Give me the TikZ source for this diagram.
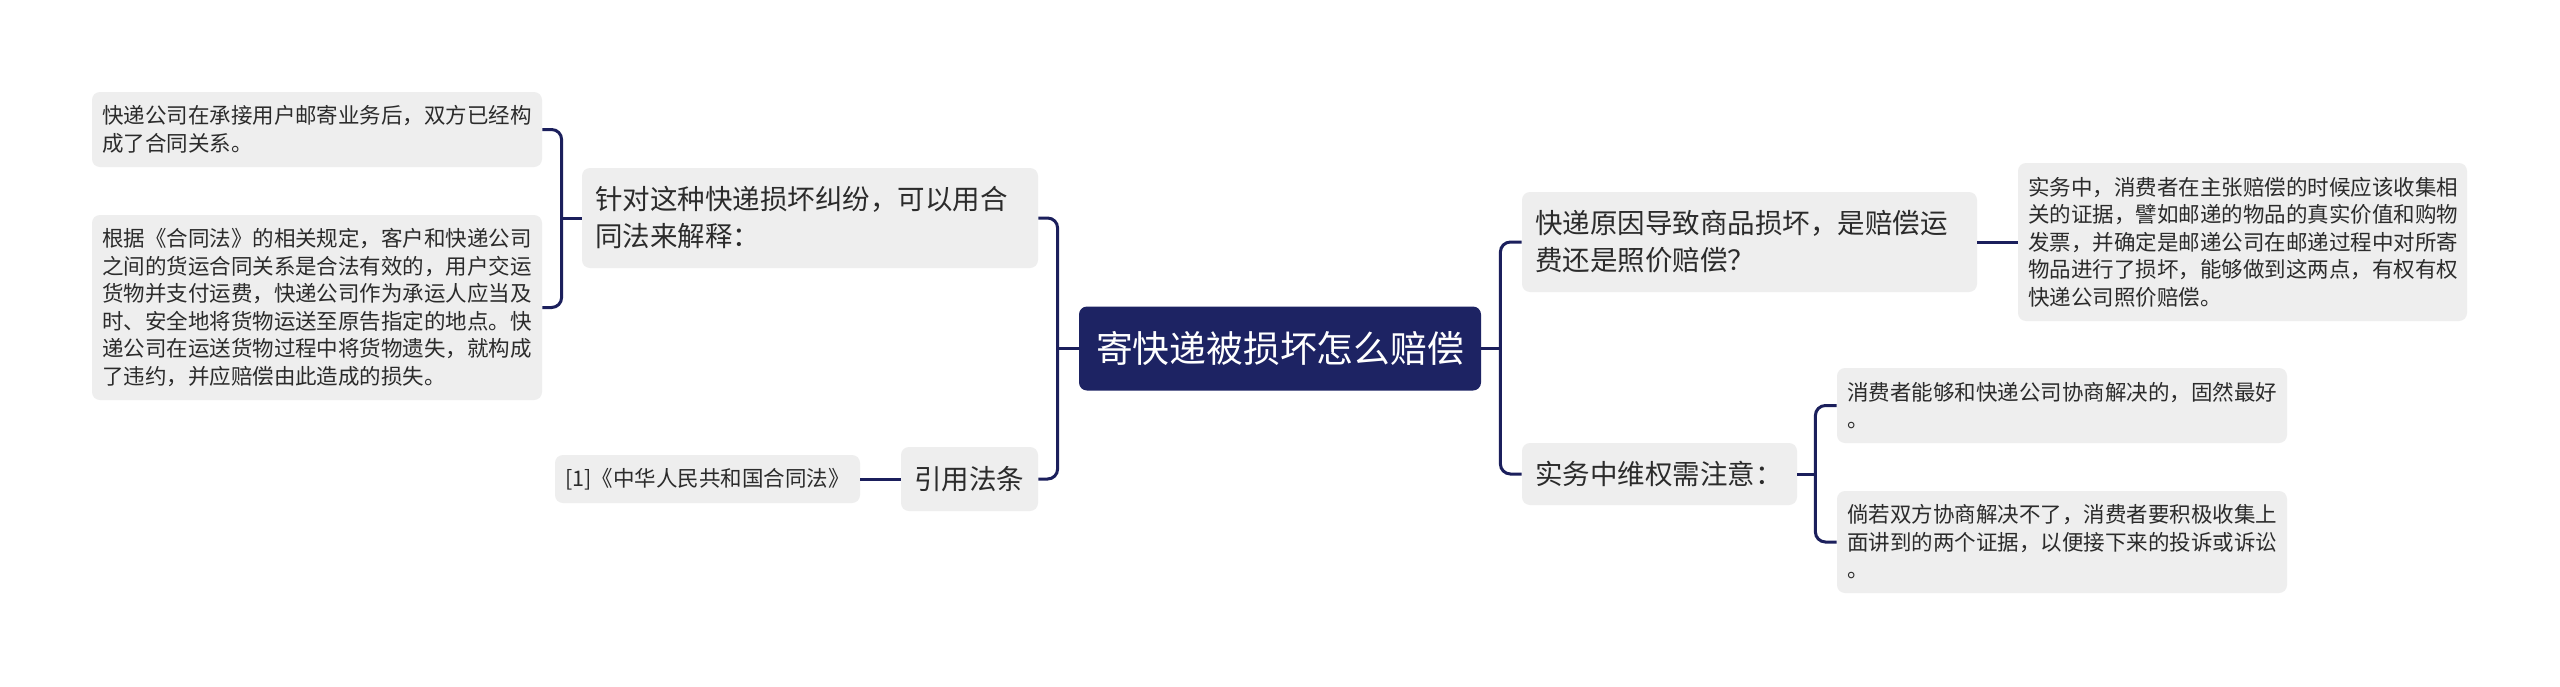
\documentclass[tikz,border=0pt]{standalone}
\usepackage{fontspec}
\setmainfont{Noto Sans CJK SC}
\newfontfamily\cjk{Noto Sans CJK SC}
\definecolor{boxgray}{HTML}{EEEEEE}
\definecolor{navy}{HTML}{1D2363}
\definecolor{linenavy}{HTML}{1B1F5C}
\definecolor{txt}{HTML}{2B2B2B}
\newcommand{\leaffont}{\cjk\fontsize{10.75pt}{13.75pt}\selectfont}
\newcommand{\midfont}{\cjk\fontsize{13.75pt}{18.5pt}\selectfont}
\newcommand{\rootfont}{\cjk\fontsize{18.4pt}{22pt}\selectfont}
\tikzset{
  leafbox/.style={rounded corners=4pt, fill=boxgray, text=txt, font=\leaffont,
    align=left, inner xsep=5pt, inner ysep=0pt, anchor=center},
  midbox/.style={rounded corners=4pt, fill=boxgray, text=txt, font=\midfont,
    align=left, inner xsep=6.5pt, inner ysep=0pt, anchor=center},
  rootbox/.style={rounded corners=4pt, fill=navy, text=white, font=\rootfont,
    align=center, inner xsep=0pt, inner ysep=0pt, anchor=center},
  conn/.style={draw=linenavy, line width=1.5pt, rounded corners=5pt}
}
\begin{document}
\begin{tikzpicture}[x=0.5pt,y=-0.5pt]
\fill[white] (0,0) rectangle (2560,686);
\useasboundingbox (0,0) rectangle (2560,686);

% root
\node[rootbox, minimum width=201pt, minimum height=42pt] (root) at (1280,348.5) {寄快递被损坏怎么赔偿};

% left side
\node[midbox, text width=215pt, minimum height=50pt] (L1) at (810,218)
  {针对这种快递损坏纠纷，可以用合\\同法来解释：};
\node[midbox, text width=55.5pt, minimum height=32pt] (quote) at (969.5,479) {引用法条};
\node[leafbox, text width=215pt, minimum height=37.5pt] (leafA) at (317,129.5)
  {快递公司在承接用户邮寄业务后，双方已经构\\成了合同关系。};
\node[leafbox, text width=215pt, minimum height=92.5pt] (leafB) at (317,307.5)
  {根据《合同法》的相关规定，客户和快递公司\\之间的货运合同关系是合法有效的，用户交运\\货物并支付运费，快递公司作为承运人应当及\\时、安全地将货物运送至原告指定的地点。快\\递公司在运送货物过程中将货物遗失，就构成\\了违约，并应赔偿由此造成的损失。};
\node[leafbox, align=center, minimum width=152.5pt, minimum height=24pt] (ref) at (707.5,479)
  {[1]《中华人民共和国合同法》};

% right side
\node[midbox, text width=214.5pt, minimum height=50pt] (R1) at (1749.5,242)
  {快递原因导致商品损坏，是赔偿运\\费还是照价赔偿？};
\node[midbox, text width=124.5pt, minimum height=31pt] (R2) at (1659.5,474) {实务中维权需注意：};
\node[leafbox, text width=214.5pt, minimum height=79pt] (R1leaf) at (2242.5,242)
  {实务中，消费者在主张赔偿的时候应该收集相\\关的证据，譬如邮递的物品的真实价值和购物\\发票，并确定是邮递公司在邮递过程中对所寄\\物品进行了损坏，能够做到这两点，有权有权\\快递公司照价赔偿。};
\node[leafbox, text width=215pt, minimum height=37.5pt] (R2a) at (2062,405.5)
  {消费者能够和快递公司协商解决的，固然最好\\。};
\node[leafbox, text width=215pt, minimum height=51pt] (R2b) at (2062,542)
  {倘若双方协商解决不了，消费者要积极收集上\\面讲到的两个证据，以便接下来的投诉或诉讼\\。};

% connectors left
\draw[conn] (L1.east) -| ([xshift=-10.5pt]root.west) |- (quote.east);
\draw[conn] (root.west) -- ([xshift=-10.5pt]root.west);
\draw[conn] (leafA.east) -| ([xshift=-10pt]L1.west) |- (leafB.east);
\draw[conn] (L1.west) -- ([xshift=-10pt]L1.west);
\draw[conn] (ref.east) -- (quote.west);

% connectors right
\draw[conn] (R1.west) -| ([xshift=9.5pt]root.east) |- (R2.west);
\draw[conn] (root.east) -- ([xshift=9.5pt]root.east);
\draw[conn] (R1.east) -- (R1leaf.west);
\draw[conn] (R2a.west) -| ([xshift=9pt]R2.east) |- (R2b.west);
\draw[conn] (R2.east) -- ([xshift=9pt]R2.east);
\end{tikzpicture}
\end{document}
